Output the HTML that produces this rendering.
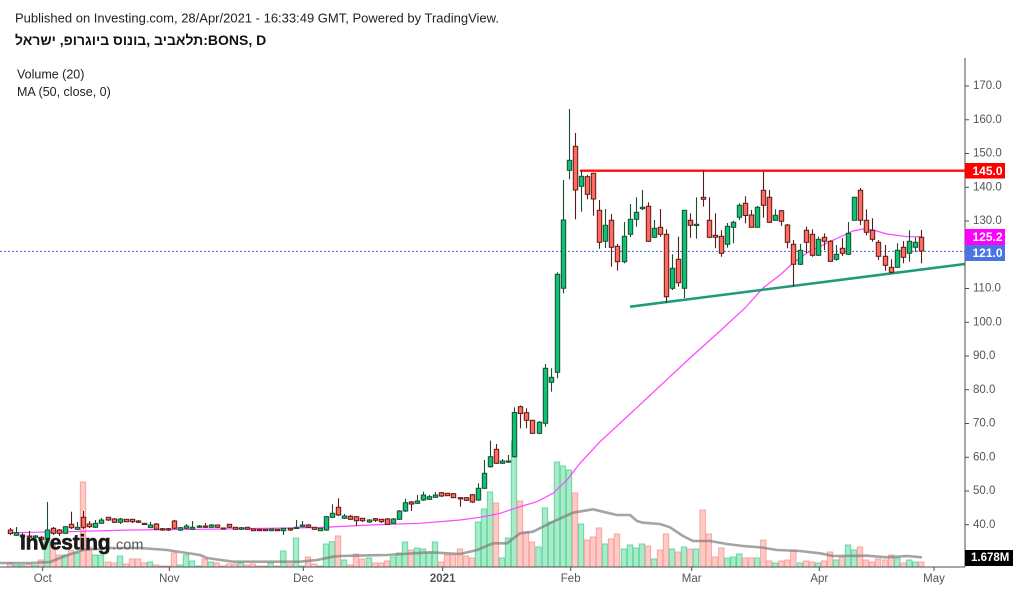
<!DOCTYPE html>
<html><head><meta charset="utf-8"><style>
html,body{margin:0;padding:0;background:#fff;}
svg{display:block;font-family:"Liberation Sans","DejaVu Sans",Arial,sans-serif;}
</style></head><body>
<svg id="s" width="1031" height="591" xmlns="http://www.w3.org/2000/svg">
<rect width="1031" height="591" fill="#fff"/>
<text x="15" y="22.5" font-size="13" fill="#222">Published on Investing.com, 28/Apr/2021 - 16:33:49 GMT, Powered by TradingView.</text>
<text x="15" y="45" font-size="14" font-weight="bold" fill="#111">תלאביב ,בונוס ביוגרופ, ישראל:BONS, D</text>
<text x="17" y="78.5" font-size="12.5" fill="#222">Volume (20)</text>
<text x="17" y="96" font-size="12.5" fill="#222">MA (50, close, 0)</text>
<g id="vol"></g>
<polyline fill="none" stroke="#7d7d7d" stroke-opacity="0.7" stroke-width="2.6" stroke-linejoin="round" points="0,563 30,563 50,562 65,556 83,550 110,548 140,548 167,550 200,555 207,558 233,561.7 300,561.7 317,560 333,556.7 340,556 387,555 430,552.3 460,554 477,550 493,543.3 507,543.3 520,533.3 533,531.7 553,521.7 573,512.7 593,509.3 607,512.7 617,515 630,515 637,521 643,522.7 660,524 670,527.3 683,536 693,541 710,541 727,544 743,546 760,547.3 777,550 800,551 820,553.3 833,556 867,555.7 887,557.3 907,556 922,557.3"/>
<line x1="0" y1="251.4" x2="965" y2="251.4" stroke="#3c64d6" stroke-width="1" stroke-dasharray="2,2"/>
<polyline fill="none" stroke="#ff44ff" stroke-width="1.2" points="10,532.7 67,531.7 133,530 200,529.3 267,528.3 320,527.5 370,525 420,523.3 460,520 480,517.3 500,513.3 520,506.7 537,501.7 553,493.3 567,480 580,463.3 600,441.7 630,414 660,386 690,358 720,331 745,308 763,288 780,275 793,263 807,253 827,243 840,237 853,231 863,229 873,230 887,234 907,236.7 921,236.7"/>
<line x1="580" y1="170.7" x2="965" y2="170.7" stroke="#ff1010" stroke-width="2.4"/>
<line x1="630" y1="306.7" x2="965" y2="264" stroke="#1f9a7c" stroke-width="2.5"/>
<g id="cdl"></g>
<line x1="965" y1="58" x2="965" y2="567" stroke="#4d4d4d" stroke-width="1"/>
<line x1="0" y1="567" x2="965" y2="567" stroke="#4d4d4d" stroke-width="1"/>
<g stroke="#4d4d4d" stroke-width="1">
<line x1="965" y1="86" x2="969" y2="86"/><line x1="965" y1="119.75" x2="969" y2="119.75"/>
<line x1="965" y1="153.5" x2="969" y2="153.5"/><line x1="965" y1="187.25" x2="969" y2="187.25"/>
<line x1="965" y1="221" x2="969" y2="221"/><line x1="965" y1="254.75" x2="969" y2="254.75"/>
<line x1="965" y1="288.5" x2="969" y2="288.5"/><line x1="965" y1="322.25" x2="969" y2="322.25"/>
<line x1="965" y1="356" x2="969" y2="356"/><line x1="965" y1="389.75" x2="969" y2="389.75"/>
<line x1="965" y1="423.5" x2="969" y2="423.5"/><line x1="965" y1="457.25" x2="969" y2="457.25"/>
<line x1="965" y1="491" x2="969" y2="491"/><line x1="965" y1="524.75" x2="969" y2="524.75"/>
<line x1="42.7" y1="567" x2="42.7" y2="571"/><line x1="169.3" y1="567" x2="169.3" y2="571"/>
<line x1="303.3" y1="567" x2="303.3" y2="571"/><line x1="442.7" y1="567" x2="442.7" y2="571"/>
<line x1="570.7" y1="567" x2="570.7" y2="571"/><line x1="691.7" y1="567" x2="691.7" y2="571"/>
<line x1="819.3" y1="567" x2="819.3" y2="571"/><line x1="934" y1="567" x2="934" y2="571"/>
</g>
<g font-size="11.5" fill="#555" dominant-baseline="central">
<text x="973" y="86">170.0</text><text x="973" y="119.75">160.0</text>
<text x="973" y="153.5">150.0</text><text x="973" y="187.25">140.0</text>
<text x="973" y="221">130.0</text><text x="973" y="254.75">120.0</text>
<text x="973" y="288.5">110.0</text><text x="973" y="322.25">100.0</text>
<text x="973" y="356">90.0</text><text x="973" y="389.75">80.0</text>
<text x="973" y="423.5">70.0</text><text x="973" y="457.25">60.0</text>
<text x="973" y="491">50.0</text><text x="973" y="524.75">40.0</text>
</g>
<g font-size="11.5" fill="#555" text-anchor="middle">
<text x="42.7" y="582">Oct</text><text x="169.3" y="582">Nov</text>
<text x="303.3" y="582">Dec</text><text x="442.7" y="582" font-weight="bold">2021</text>
<text x="570.7" y="582">Feb</text><text x="691.7" y="582">Mar</text>
<text x="819.3" y="582">Apr</text><text x="934" y="582">May</text>
</g>
<rect x="965" y="163" width="40" height="15.5" fill="#ff0000"/>
<rect x="965" y="229" width="40" height="16" fill="#ff00ff"/>
<rect x="965" y="245" width="40" height="16" fill="#4a74e2"/>
<rect x="965" y="550" width="48" height="16" fill="#000"/>
<g font-size="12" font-weight="bold" fill="#fff" dominant-baseline="central">
<text x="972.5" y="171">145.0</text>
<text x="972.5" y="237.2">125.2</text>
<text x="972.5" y="253.2">121.0</text>
<text x="971" y="558.2" font-size="11.5">1.678M</text>
</g>
<text x="20" y="549.5" font-size="21" font-weight="bold" fill="#1a1a1a" stroke="#1a1a1a" stroke-width="0.6" letter-spacing="-0.2">Investing</text>
<text x="112" y="549.5" font-size="14.5" fill="#555">.com</text>
</svg>
<script>
const D=[
[10,530,533.5,528,535,563],[16,535.3,532.7,527,536,565],[22,537,535,533,538,565],[29,536,537,531,538,564],
[35,537.3,536,535,538,565],[41,537.3,539.3,536,540,560],[47,539,530,502,540,540],[53,528.3,533.3,527,535,545],
[59,530,533.3,529,536,555],[65,533.3,526.7,526,534,555],[71,524.3,527.7,511.7,529,550],[77,529.3,527.3,522,530,553],
[83,517.3,527.3,511,529,482],[89,524,526.7,521,528,547],[95,527.3,523.3,520,528,555],[101,523.3,520,518,524,555],
[108,517.3,520,517,521,562],[114,519,522.3,518,523,563],[120,522.3,519,518,524,556],[126,519.3,521.7,519,522,564],
[132,519.3,521.7,519,523,559],[138,521,522.3,520,523,559],[144,523.3,524.3,523,525,563],[150,527.7,525,522,528,562],
[156,524,529.3,523,530,565],[162,528.7,530,528,531,566],[168,528.7,530,528,531,566],[174,521,528.3,520,529,553],
[180,530,527.7,527,531,565],[186,528.3,526,524,529,555],[192,529.3,527.3,521,530,561],[198.7,527.3,526,525,528,566],
[204.7,526,527.3,523,528,559],[210.7,527.3,525,524,528,562],[216.7,525,527.3,525,528,563],[222.7,528,529,528,529.5,566],
[228.7,524.3,527.3,524,528,564],[234.7,527.3,529.3,527,530,564],[240.7,529.3,527.7,527,530,563],[246.7,527.3,529.3,527,530,565],
[252.7,529,530.7,529,531,564],[258.7,529.3,530.7,529,531,566],[264.7,529.3,530.7,529,531,566],[270.7,530.7,529,529,531,563],
[276.7,529.3,530.7,529,531,566],[283.3,530.7,528.3,528,535,551],[290,528.3,530,528,531,564],[296,528,527.3,520,528.5,538],
[302,526.7,525,521,527,566],[308,525,527.3,524,528,557],[314,527.3,529.3,527,530,564],[320,530.7,528.3,528,531,566],
[326,530,516.7,516,531,544],[332,517.3,513.3,504.3,518,541.7],[338,507.3,515,498.3,516,536],[344,518.3,516,514,519,560],
[350,516.3,519.3,515,520,565],[356,516.7,520.7,516,525.7,554],[362,518.3,520.7,518,522,559],[369,522,520,519,523,558],
[375,518.7,520.3,518,522,563],[381,519.3,521.7,519,523,563],[387,519,524.3,518,525,561],[393,523.3,519,518,524,557],
[399,519.3,511,510,520,553],[405,511,502.7,498.7,512,542],[411,502,504,501,511,550],[417,503.3,501,495,504,548],
[423,500,495,491.7,501,549],[429,499.3,496.7,495,500,553],[435,497.3,495,492,498,542],[441,492.7,496,492,497,562],
[447,493.3,495.7,493,496,555],[453,493.7,497.7,493,498,555],[460,497.7,498.7,497,506.7,549],[466,497.7,500.3,497,501,556],
[472,494.7,502,494,503,558],[478,500,488.3,483.3,501,522],[484,488.3,473.3,460,489,509],[490,466.7,456.7,440.7,467.7,492],
[496,449.3,463.3,444,464,503],[502,463.3,461,459,464,558],[508,462,461,455,463,538],[514,456.7,412.5,407.3,457.7,441],
[520,406.7,413.5,405.5,428.3,501],[526,412.7,420.3,408.3,428.3,532],[532,420.3,433.3,420,434,542],[538.5,433.3,422.3,421,434.3,547],
[545,423.3,368.3,364,426.7,508],[551,382.3,377.3,368.3,391.7,522],[557,372.3,274.3,272.3,378.3,462],[563,288.3,220,180,293.3,466],
[569,170.3,160.3,109,179.3,470],[575,146.3,190,133,219.3,493],[581,186.3,176.3,170.7,211.7,524],[587,176.7,194.3,175,199.3,540],
[593,173.3,199,172.7,215.7,537],[599,210.3,242.3,200,248.7,528],[605,241.3,225.3,209,248,544],[611,220.3,247.3,214,266.7,539],
[617,246.3,261.7,244,270.7,534],[624,261.7,236.3,222,263.3,549],[630,234.3,219.3,204,237,545],[636,219.3,212.3,197.3,226.7,548],
[642,208.7,207.3,190,210,544],[648,206.3,241.3,202.3,242,546],[654,237.3,228.3,220,238,559],[660,227.3,234.3,209,236.7,550],
[666,234.3,296.7,229.3,302.7,534],[672,288.3,268.3,254.3,290,549],[678,259.3,282.7,236.7,286.7,552],[684,288.3,210.3,210,298,547],
[690,220.3,225.3,213.3,237.7,549],[696,225.3,224.3,197.3,238.7,549],[702.7,197.3,199.3,170.7,206.7,510],[708.7,220.3,237.3,197.3,238,534],
[714.7,235.3,237.3,213.3,248.3,557],[721.3,236.3,253.3,230.3,256.7,548],[727.3,244.3,226.3,223,247.7,558],[733.3,227.3,222.3,220.7,243.3,557],
[739.3,217.3,205.3,203.3,220,554],[745.3,203.3,215.5,196.3,223.3,558],[751.3,215,227.3,210,227.3,558],[757.3,227.3,207.3,206,227.3,558],
[763.3,190.3,205.3,171.7,217.7,540],[769.3,197.3,222.3,190,223,561],[775.3,220.3,215.3,209.3,220.7,563],[781.3,210.7,221.3,210,226,561],
[787.3,225,242.3,224,248.3,560],[793.3,244.3,264.3,240,286.7,550],[800,264.3,250.3,244,265,563],[806,230.3,242.3,226.7,253.3,561],
[812,234.3,255.3,229.3,256.7,562],[818,255.3,239.3,236.7,256,563],[824,237.3,241.3,233.3,250,561],[830,241.3,261.3,240,261.7,552],
[836,259.3,254.3,245,260.7,560],[842,248.3,253.3,238.3,256,557],[848,254.3,233.3,222,255,545],[854,220.3,197.3,196.7,220.3,550],
[860,190.3,220.3,188,225,547],[866,220.3,232.3,209.3,235.3,560],[872,230.3,239.3,218.3,241.7,562],[878,242.3,256.3,240,260,559],
[885.3,256.3,265.3,245,270.7,560],[891.3,267.3,272.3,259.3,273.3,555],[897.3,267.3,250.3,243.3,268,558],[903.3,247.3,257.3,241,263.3,563],
[909.3,253.3,241.3,230.3,261.7,560],[915.3,247.3,242.3,237.3,252,562],[921.3,237.3,251,230,263.3,562]
];
let v='',c='';
for(const [x,o,cl,h,l,vt] of D){
  const up=cl<o;
  v+=`<rect x="${(x-2.7).toFixed(1)}" y="${vt}" width="5.4" height="${(567-vt).toFixed(1)}" fill="${up?'#a8ebc9':'#ffcac6'}" stroke="${up?'#5fd49d':'#f6a099'}" stroke-width="0.9"/>`;
  const cx=Math.round(x)+0.5;
  const col=up?'#1c4d33':'#5e1a1a';
  c+=`<line x1="${cx}" y1="${h}" x2="${cx}" y2="${l}" stroke="${col}" stroke-width="1.1"/>`;
  let t=Math.min(o,cl),b=Math.max(o,cl);if(b-t<1.2){b=t+1.2;}
  c+=`<rect x="${cx-2.2}" y="${t}" width="4.4" height="${(b-t).toFixed(1)}" fill="${up?'#0cc275':'#ff6b5e'}" stroke="${col}" stroke-width="1"/>`;
}
document.getElementById('vol').innerHTML=v;
document.getElementById('cdl').innerHTML=c;
</script>
</body></html>
